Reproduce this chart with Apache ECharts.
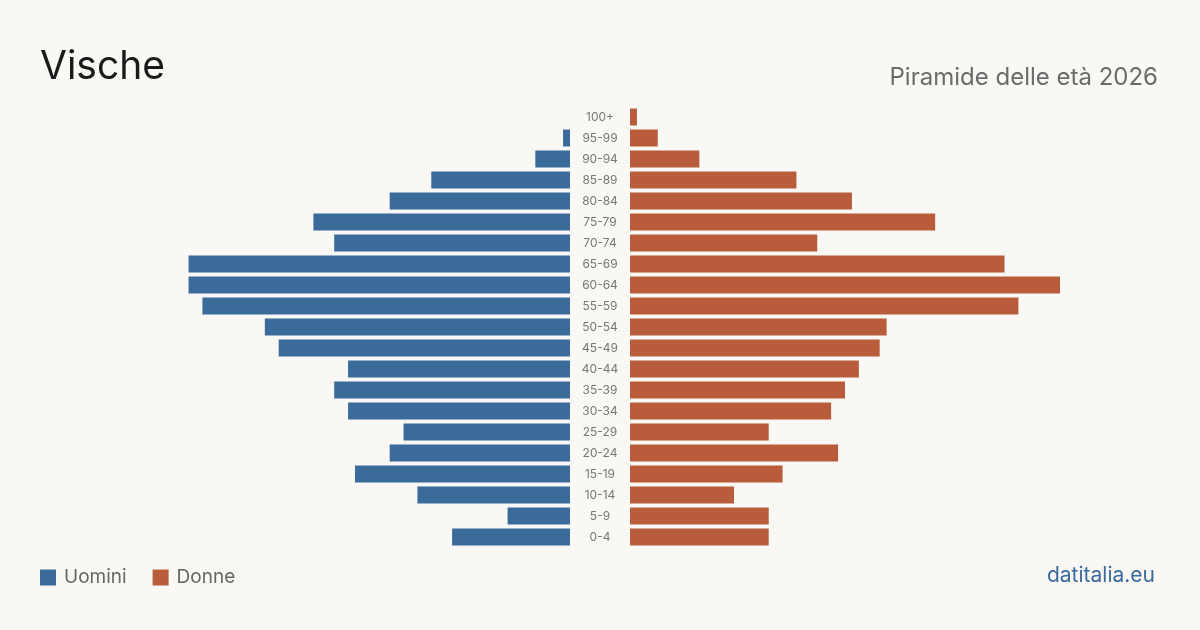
<!DOCTYPE html>
<html><head><meta charset="utf-8">
<style>html,body{margin:0;padding:0;background:#f9f8f4;}#c{width:1200px;height:630px;}</style>
<script src="https://cdn.jsdelivr.net/npm/echarts@6/dist/echarts.min.js"></script>
</head><body><div id="c"></div>
<script>
const categories = ['0-4','5-9','10-14','15-19','20-24','25-29','30-34','35-39','40-44','45-49','50-54','55-59','60-64','65-69','70-74','75-79','80-84','85-89','90-94','95-99','100+'];
const uomini = [17,9,22,31,26,24,32,34,32,42,44,53,55,55,34,37,26,20,5,1,0];
const donne = [20,20,15,22,30,20,29,31,33,36,37,56,62,54,27,44,32,24,10,4,1];
const axisMax = 62;
const FONT = 'Inter, "Noto Sans", sans-serif';
const chart = echarts.init(document.getElementById('c'), null, {renderer:'canvas'});
chart.setOption({
  backgroundColor:'#f9f8f4',
  animation:false,
  title:[
    {text:'Vische', left:40, top:48, padding:0, textStyle:{fontFamily:FONT, fontSize:39, fontWeight:'normal', color:'#1a1a1a'}},
    {text:'Piramide delle età 2026', right:42, top:66, padding:0, textStyle:{fontFamily:FONT, fontSize:24, fontWeight:'normal', color:'#6b6b6b'}},
    {text:'datitalia.eu', right:45, top:565, padding:0, textStyle:{fontFamily:FONT, fontSize:21, fontWeight:'normal', color:'#3a6a9e'}}
  ],
  legend:{left:40, top:568, padding:0, itemWidth:16, itemHeight:16, itemGap:26, icon:'rect',
    textStyle:{fontFamily:FONT, fontSize:19, color:'#666', padding:[0,0,0,3]}, data:['Uomini','Donne']},
  grid:[
    {left:140, width:430, top:106.5, height:441},
    {left:630, width:430, top:106.5, height:441}
  ],
  xAxis:[
    {gridIndex:0, type:'value', min:0, max:axisMax, inverse:true, show:false},
    {gridIndex:1, type:'value', min:0, max:axisMax, show:false}
  ],
  yAxis:[
    {gridIndex:0, type:'category', data:categories, show:false},
    {gridIndex:1, type:'category', data:categories, axisLine:{show:false}, axisTick:{show:false},
      axisLabel:{margin:30, align:'center', fontFamily:FONT, fontSize:12, color:'#777'}}
  ],
  series:[
    {name:'Uomini', type:'bar', xAxisIndex:0, yAxisIndex:0, data:uomini, barCategoryGap:'19%', itemStyle:{color:'#3b6b9b'}},
    {name:'Donne', type:'bar', xAxisIndex:1, yAxisIndex:1, data:donne, barCategoryGap:'19%', itemStyle:{color:'#b85c3c'}}
  ]
});
</script></body></html>
